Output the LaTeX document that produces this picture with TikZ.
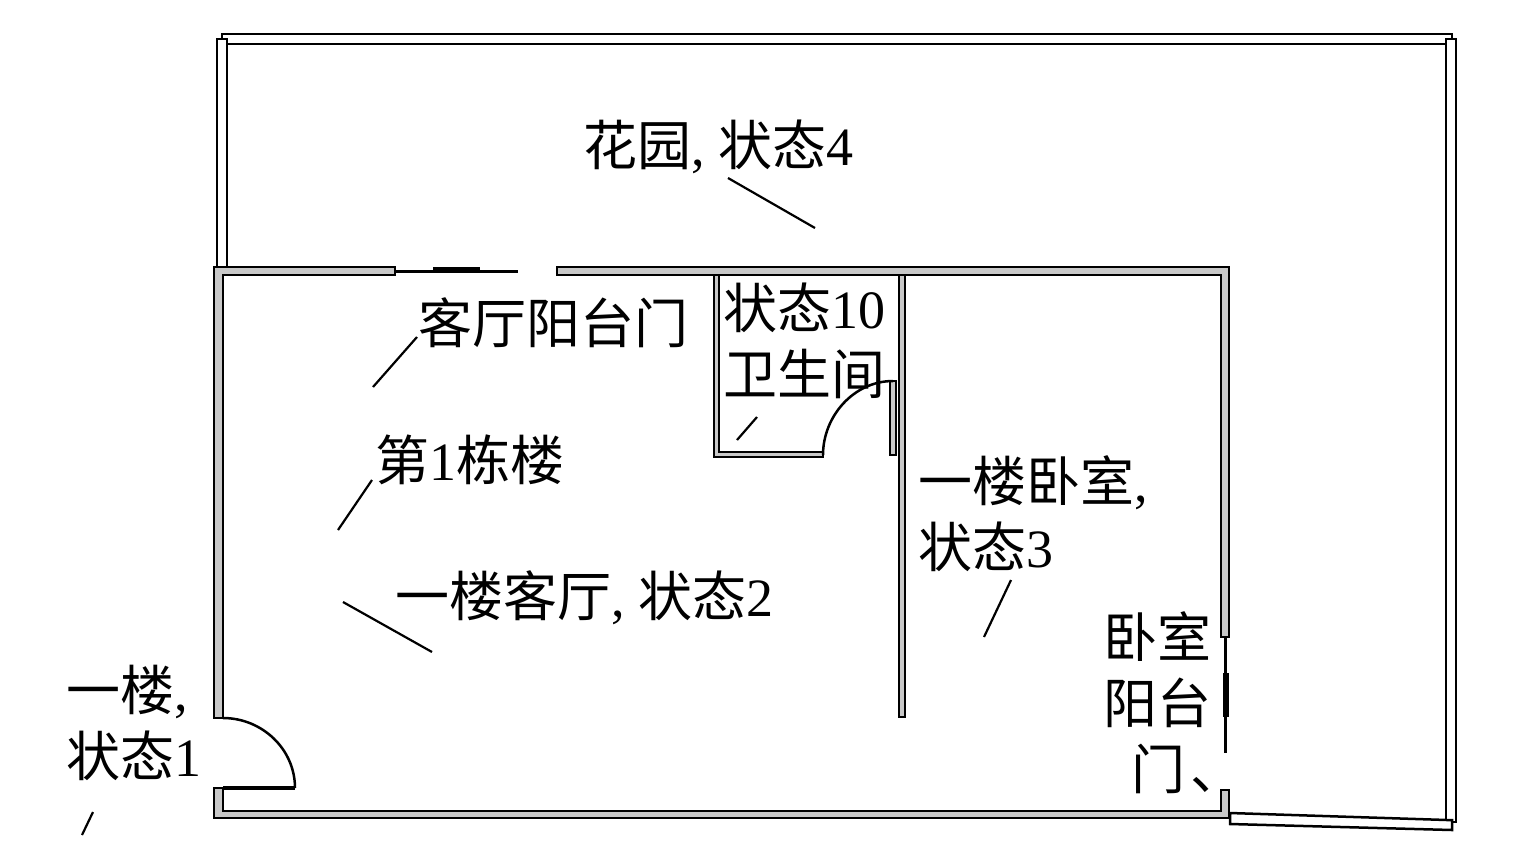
\documentclass[tikz,border=0pt]{standalone}
\usepackage{fontspec}
\setmainfont{Liberation Serif}
\newfontfamily\cjk{Noto Sans CJK SC}
\newcommand{\zh}[1]{{\cjk #1}}
\definecolor{wallgray}{RGB}{200,200,200}
\newcommand{\drawwall}[1] {
  \filldraw[wall] #1 -- cycle; % gray wall, black rim
}
\newcommand{\drawgarden}[1] {
    \foreach \a/\b in #1 {
      \coordinate[at=\a, name=A];
      \coordinate[at=\b, name=B];
      \filldraw[garden] (A) rectangle (B);
    }
}
\newcommand{\drawleaders}[1] {
    \foreach \a/\b in #1 {
      \coordinate[at=\a, name=A];
      \coordinate[at=\b, name=B];
      \draw[leader] (A) -- (B);
    }
}

\begin{document}
\begin{tikzpicture}[x=1pt, y=-1pt,
    wall/.style={fill=wallgray, draw=black, line width=2.5pt, line join=miter},
    garden/.style={fill=white, draw=black, line width=2.5pt},
    leader/.style={line width=2.2pt},
    lbl/.style={inner sep=0pt, font=\fontsize{54}{66}\selectfont}]
    \useasboundingbox (0,0) rectangle (1538,855);
    % garden walls
    \drawgarden{{{(222,34)/(1452,44)},{(217,39)/(227,268)},{(1446,39)/(1456,822)}}}
    \filldraw[garden] (1230,813) -- (1447,820) -- (1452,820) -- (1452,830) -- (1230,824) -- cycle;
    % house walls
    \drawwall{(395,267) -- (214,267) -- (214,718) -- (223,718) -- (223,275) -- (395,275)}
    \drawwall{(557,267) -- (1229,267) -- (1229,637) -- (1221,637) -- (1221,275) -- (557,275)}
    \drawwall{(214,788) -- (214,818) -- (1229,818) -- (1229,790) -- (1221,790) -- (1221,811) -- (223,811) -- (223,788)}
    \drawwall{(714,275) -- (714,457) -- (823,457) -- (823,452) -- (719,452) -- (719,275)}
    \drawwall{(899,275) -- (905,275) -- (905,717) -- (899,717)}
    \drawwall{(890,381) -- (896,381) -- (896,455) -- (890,455)}
    % windows
    \draw[line width=3pt] (395,271) -- (518,271);
    \draw[line width=6pt] (433,270) -- (480,270);
    \draw[line width=3pt] (1225,637) -- (1225,753);
    \draw[line width=6pt] (1226,673) -- (1226,717);
    % doors
    \draw[line width=4pt] (223,788) -- (295,788);
    \draw[line width=2.5pt] (223,718) .. controls (262,718) and (295,749) .. (295,788);
    \draw[line width=2.5pt] (823,455) .. controls (823,416) and (854,381) .. (893,381);
    % labels
    \node[lbl, anchor=west] (garden) at (583,147) {\zh{花园}, \zh{状态}4};
    \node[lbl, anchor=west] (balconydoor) at (418,323) {\zh{客厅阳台门}};
    \node[lbl, anchor=west, align=left] (bath) at (723,341) {\zh{状态}10\\\zh{卫生间}};
    \node[lbl, anchor=west] (building) at (375,460) {\zh{第}1\zh{栋楼}};
    \node[lbl, anchor=west] (livingroom) at (395,598) {\zh{一楼客厅}, \zh{状态}2};
    \node[lbl, anchor=west, align=left] (bedroom) at (918,514) {\zh{一楼卧室},\\\zh{状态}3};
    \node[lbl, anchor=east, align=right] (bedroomdoor) at (1212,703) {\zh{卧室}\\\zh{阳台}\\\zh{门}\hspace{5pt}\makebox[21pt][l]{\zh{、}}};
    \node[lbl, anchor=west, align=left] (floor) at (66,723) {\zh{一楼},\\\zh{状态}1};
    \drawleaders{{{(728,178)/(815,228)},{(417,337)/(373,387)},{(372,480)/(338,530)},{(343,602)/(432,652)},{(757,417)/(737,440)},{(1011,580)/(984,637)},{(93,812)/(82,835)}}}
\end{tikzpicture}
\end{document}
